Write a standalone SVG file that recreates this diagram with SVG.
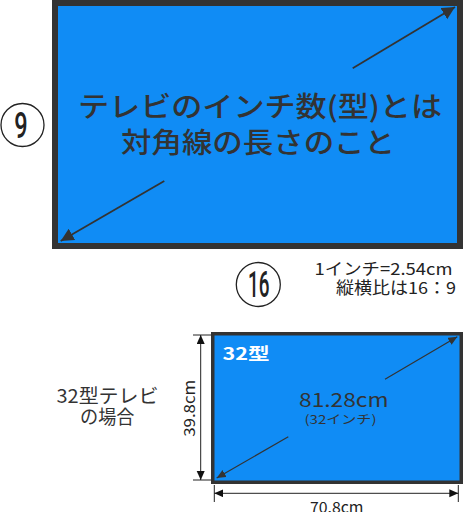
<svg xmlns="http://www.w3.org/2000/svg" width="463" height="512" viewBox="0 0 463 512">
<style>
.jp{font-family:"Noto Sans CJK JP","Noto Sans",sans-serif;fill:#333}
.num{font-family:Roboto,"Liberation Sans",sans-serif;fill:#222;font-weight:500}
.frame{fill:#333}
.screen{fill:#108cf5}
.diag{stroke:#333;stroke-width:1.8;fill:none}
.diag2{stroke:#333;stroke-width:1.2;fill:none}
.dim{stroke:#222;stroke-width:1;fill:none}
.circ{fill:#fff;stroke:#222;stroke-width:1.3}
</style>
<defs>
<marker id="ah" markerUnits="userSpaceOnUse" markerWidth="14" markerHeight="14" refX="13" refY="6.5" orient="auto" viewBox="0 0 14 14">
<path d="M0,0 L13,6.5 L0,13 z" fill="#333"/>
</marker>
<marker id="ahs" markerUnits="userSpaceOnUse" markerWidth="10" markerHeight="10" refX="9" refY="4" orient="auto" viewBox="0 0 10 10">
<path d="M0,0 L9,4 L0,8 z" fill="#333"/>
</marker>
<marker id="ahd" markerUnits="userSpaceOnUse" markerWidth="10" markerHeight="10" refX="9" refY="4" orient="auto" viewBox="0 0 10 10">
<path d="M0,0 L9,4 L0,8 z" fill="#111"/>
</marker>
</defs>

<g id="tv-large">
<rect class="frame" x="52" y="0" width="411" height="249"/>
<rect class="screen" x="58" y="6" width="399" height="237"/>
<text class="jp" x="78" y="116.5" font-size="28" font-weight="500" textLength="364" lengthAdjust="spacingAndGlyphs">テレビのインチ数(型)とは</text>
<text class="jp" x="121" y="153" font-size="28" font-weight="500" textLength="274" lengthAdjust="spacingAndGlyphs">対角線の長さのこと</text>
</g>

<g id="label-9">
<circle class="circ" cx="22.5" cy="125" r="21.5"/>
<text class="num" x="14.3" y="138.3" font-size="36" textLength="13.4" lengthAdjust="spacingAndGlyphs">9</text>
</g>

<g id="label-16">
<circle class="circ" cx="258.3" cy="284.5" r="22"/>
<text class="num" x="248" y="296.7" font-size="36" textLength="21.5" lengthAdjust="spacingAndGlyphs">16</text>
</g>

<g id="note">
<text class="jp" x="314.5" y="275" font-size="16.5" textLength="138" lengthAdjust="spacingAndGlyphs" style="fill:#222">1インチ=2.54cm</text>
<text class="jp" x="336" y="294" font-size="16.5" textLength="120" lengthAdjust="spacingAndGlyphs" style="fill:#222">縦横比は16：9</text>
</g>

<g id="caption-32">
<text class="jp" x="56.5" y="402.5" font-size="19" textLength="102" lengthAdjust="spacingAndGlyphs">32型テレビ</text>
<text class="jp" x="80" y="423.5" font-size="19" textLength="54.5" lengthAdjust="spacingAndGlyphs">の場合</text>
</g>

<g id="tv-32">
<rect class="frame" x="211" y="332" width="252" height="152"/>
<rect class="screen" x="214.5" y="335.5" width="245" height="145"/>
<text class="jp" x="222.5" y="359.5" font-size="17" font-weight="bold" textLength="47" lengthAdjust="spacingAndGlyphs" style="fill:#fff">32型</text>
<text class="jp" x="299" y="406.5" font-size="19" textLength="89.5" lengthAdjust="spacingAndGlyphs">81.28cm</text>
<text class="jp" x="304.5" y="424" font-size="12" textLength="72" lengthAdjust="spacingAndGlyphs">(32インチ)</text>
</g>

<g id="dimension-labels">
<text class="jp" transform="translate(195,408.3) rotate(-90)" x="0" y="0" font-size="15" text-anchor="middle" textLength="57" lengthAdjust="spacingAndGlyphs" style="fill:#222">39.8cm</text>
<text class="jp" x="336.7" y="512.5" font-size="15" text-anchor="middle" textLength="53.5" lengthAdjust="spacingAndGlyphs" style="fill:#222">70.8cm</text>
</g>

<g id="connectors">
<line class="diag" x1="352.7" y1="68.3" x2="455" y2="7" marker-end="url(#ah)"/>
<line class="diag" x1="164.3" y1="181" x2="60.7" y2="241" marker-end="url(#ah)"/>
<line class="diag2" x1="385" y1="379.3" x2="457.3" y2="336.7" marker-end="url(#ahs)"/>
<line class="diag2" x1="288.3" y1="436.7" x2="216.7" y2="478" marker-end="url(#ahs)"/>
<line class="dim" x1="193" y1="335" x2="211" y2="335"/>
<line class="dim" x1="193" y1="480" x2="211" y2="480"/>
<line class="dim" x1="200.7" y1="360" x2="200.7" y2="335" marker-end="url(#ahd)"/>
<line class="dim" x1="200.7" y1="360" x2="200.7" y2="480" marker-end="url(#ahd)"/>
<line class="dim" x1="214.3" y1="485" x2="214.3" y2="502"/>
<line class="dim" x1="458.3" y1="485" x2="458.3" y2="502"/>
<line class="dim" x1="300" y1="493.3" x2="214.3" y2="493.3" marker-end="url(#ahd)"/>
<line class="dim" x1="300" y1="493.3" x2="458.3" y2="493.3" marker-end="url(#ahd)"/>
</g>
</svg>
